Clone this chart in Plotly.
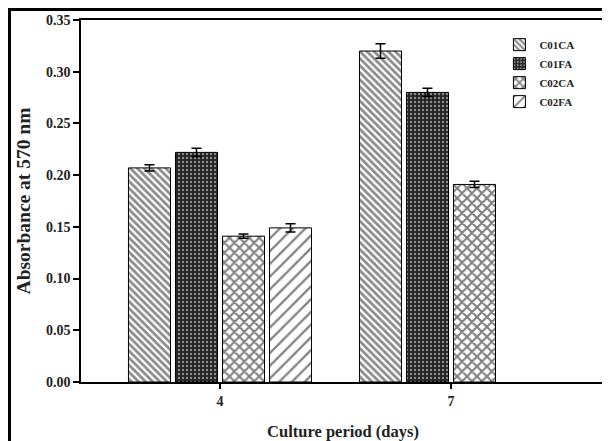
import plotly.graph_objects as go

days = [4, 7]
series_names = ["C01CA", "C01FA", "C02CA", "C02FA"]
c01ca = [0.207, 0.320]
c01fa = [0.222, 0.280]
c02ca = [0.141, 0.191]
c02fa = [0.149, None]
c01ca_err = [0.003, 0.007]
c01fa_err = [0.004, 0.004]
c02ca_err = [0.002, 0.003]
c02fa_err = [0.004, None]
y_ticks = [0.00, 0.05, 0.10, 0.15, 0.20, 0.25, 0.30, 0.35]

values = [c01ca, c01fa, c02ca, c02fa]
errors = [c01ca_err, c01fa_err, c02ca_err, c02fa_err]
patterns = [
    dict(shape="\\", size=5, solidity=0.55, fgcolor="#1a1a1a", bgcolor="white"),
    dict(shape=".", size=4, solidity=0.3, fgcolor="#f0f0f0", bgcolor="#222222"),
    dict(shape="x", size=7, solidity=0.5, fgcolor="#000000", bgcolor="white"),
    dict(shape="/", size=9, solidity=0.25, fgcolor="#000000", bgcolor="white"),
]

FONT = "Liberation Serif"
fig = go.Figure()
for name, vals, errs, pat in zip(series_names, values, errors, patterns):
    fig.add_trace(go.Bar(
        x=days, y=vals, name="<b>" + name + "</b>",
        marker=dict(color="white", pattern=pat, line=dict(color="black", width=1)),
        error_y=dict(type="data", array=errs, visible=True, color="black",
                     thickness=1.5, width=5),
    ))

# the page body has an 8px margin, so the figure is sized to fill the rest of the window
fig.update_layout(
    width=602, height=433,
    margin=dict(l=73, r=5, t=12, b=59),
    paper_bgcolor="white", plot_bgcolor="white",
    barmode="group", bargap=0.186, bargroupgap=0.106,
    font=dict(family=FONT, color="black", size=12),
    showlegend=True,
    legend=dict(x=0.7985, y=0.972, xanchor="left", yanchor="top",
                bgcolor="rgba(0,0,0,0)", borderwidth=0,
                font=dict(family=FONT, size=11, color="#222"),
                itemwidth=30, tracegroupgap=0),
    xaxis=dict(range=[2.195, 9.0], tickvals=days,
               ticktext=["<b>%d</b>" % d for d in days],
               showline=True, linecolor="black", linewidth=1.5, mirror=True,
               ticks="outside", ticklen=5, tickwidth=1.5, tickcolor="black",
               showgrid=False, zeroline=False, automargin=False,
               tickfont=dict(family=FONT, size=14, color="#222"),
               title=dict(text="<b>Culture period (days)</b>", standoff=18,
                          font=dict(family=FONT, size=16.5, color="#222"))),
    yaxis=dict(range=[0, 0.35], tickvals=y_ticks,
               ticktext=["<b>%.2f</b>" % v for v in y_ticks],
               showline=True, linecolor="black", linewidth=1.5, mirror=True,
               ticks="outside", ticklen=6, tickwidth=1.5, tickcolor="black",
               showgrid=False, zeroline=False, automargin=False,
               tickfont=dict(family=FONT, size=14, color="#222"),
               title=dict(text="<b>Absorbance at 570 nm</b>", standoff=10,
                          font=dict(family=FONT, size=19.5, color="#222"))),
)

# outer frame bands (left and top edges of the figure)
fig.add_shape(type="rect", xref="paper", yref="paper", xsizemode="pixel", ysizemode="pixel",
              xanchor=0, yanchor=0, x0=-73, x1=-70, y0=-59, y1=374,
              fillcolor="black", line=dict(width=0), layer="above")
fig.add_shape(type="rect", xref="paper", yref="paper", xsizemode="pixel", ysizemode="pixel",
              xanchor=0, yanchor=0, x0=-73, x1=529, y0=371, y1=374,
              fillcolor="black", line=dict(width=0), layer="above")

fig.write_html("out.html")
